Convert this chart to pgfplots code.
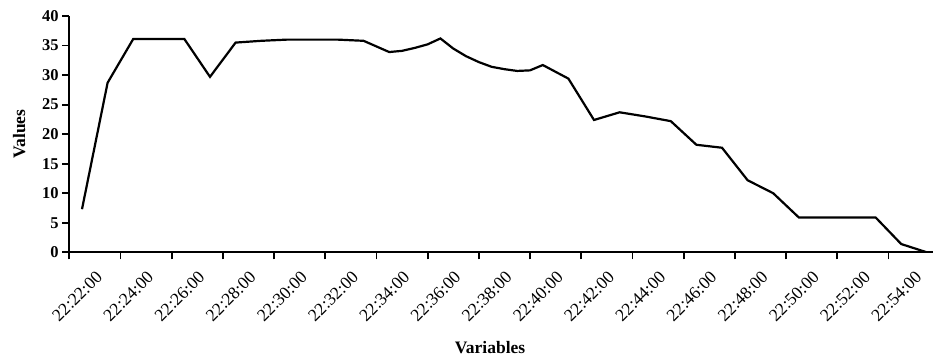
\documentclass[border=0pt]{standalone}
\usepackage{fontspec}
\setmainfont{Liberation Serif}
\usepackage{pgfplots}
\pgfplotsset{compat=1.18}
\begin{document}
\begin{tikzpicture}
\useasboundingbox (-69.2pt,-109.7pt) rectangle (863.8pt,252.3pt);
\clip (-69.2pt,-109.7pt) rectangle (863.8pt,252.3pt);
\begin{axis}[
  at={(0pt,0pt)}, anchor=south west,
  scale only axis, width=870.4pt, height=236.3pt,
  xmin=-0.5, xmax=33.5, ymin=0, ymax=40,
  axis x line=bottom, axis y line=left,
  axis line style={-, line width=2.2pt, black},
  tick align=outside, major tick length=7pt,
  tick style={line width=1.8pt, black},
  /pgf/number format/assume math mode=true,
  ytick={0,5,...,40},
  yticklabel style={font=\fontsize{16.5pt}{16.5pt}\selectfont\bfseries},
  xtick={-0.5,1.5,...,33.5}, xticklabels={},
  extra x ticks={0,2,...,32},
  extra x tick labels={22:22:00,22:24:00,22:26:00,22:28:00,22:30:00,22:32:00,22:34:00,22:36:00,22:38:00,22:40:00,22:42:00,22:44:00,22:46:00,22:48:00,22:50:00,22:52:00,22:54:00},
  extra x tick style={major tick length=0pt},
  xticklabel style={xshift=13pt, yshift=-17.5pt, font=\fontsize{17.5pt}{17.5pt}\selectfont, rotate=45, anchor=north east, inner sep=0pt},
  ylabel={Values}, xlabel={Variables},
  every axis y label/.style={at={(axis description cs:0,0.5)}, xshift=-50pt, rotate=90, anchor=center, font=\fontsize{17.5pt}{17.5pt}\selectfont\bfseries},
  every axis x label/.style={at={(axis description cs:0.4835,0)}, yshift=-95.7pt, anchor=center, font=\fontsize{17.5pt}{17.5pt}\selectfont\bfseries},
]
\addplot[black, line width=2.2pt, mark=none] coordinates {
(0,7.3) (1,28.7) (2,36.1) (3,36.1) (4,36.1) (5,29.7) (6,35.5) (7,35.8) (8,36.0) (9,36.0) (10,36.0) (11,35.8)
(12,33.9) (12.5,34.1) (13,34.6) (13.5,35.2) (14,36.2) (14.5,34.5) (15,33.2) (15.5,32.2) (16,31.4) (16.5,31.0)
(17,30.7) (17.5,30.8) (18,31.7) (19,29.4) (20,22.4) (21,23.7) (22,23.0) (23,22.2) (24,18.2) (25,17.7)
(26,12.2) (27,10.0) (28,5.9) (29,5.9) (30,5.9) (31,5.9) (32,1.4) (33,0)
};
\end{axis}
\end{tikzpicture}
\end{document}
